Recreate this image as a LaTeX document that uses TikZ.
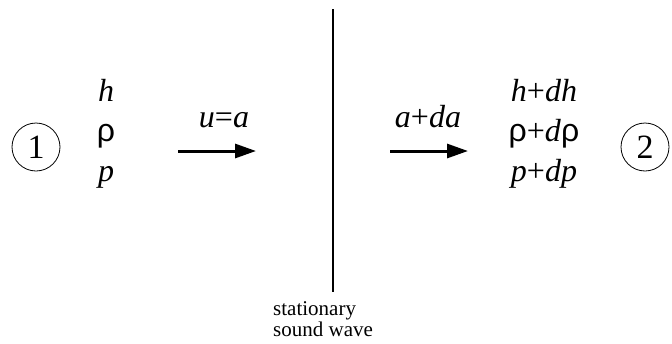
\documentclass[tikz,border=0pt]{standalone}
\usepackage{fontspec}
\setmainfont{Liberation Serif}
\newfontfamily\rhofont{Liberation Sans}
\newcommand{\rh}{{\rhofont ρ}}
\usetikzlibrary{arrows.meta}
\tikzset{
  lbl/.style={font=\fontsize{32}{36}\selectfont, inner sep=0pt, anchor=base},
  numcirc/.style={draw, circle, line width=0.8pt, minimum size=48pt, inner sep=0pt, font=\fontsize{34}{36}\selectfont},
  flow/.style={line width=3pt, -{Triangle[length=21pt,width=14pt]}},
  captext/.style={font=\fontsize{21}{21}\selectfont, inner sep=0pt, anchor=base west, align=left}
}
\begin{document}
\begin{tikzpicture}[x=1pt,y=-1pt]
\useasboundingbox (0,0) rectangle (672,343);
\node[numcirc] (c1) at (36,147) {1};
\node[numcirc] (c2) at (645,147) {2};
\node[lbl] (h1) at (106,101) {\textit{h}};
\node[lbl] (r1) at (106,141) {\rh};
\node[lbl] (p1) at (106,181) {\textit{p}};
\node[lbl] (h2) at (544,101) {\textit{h}+\textit{dh}};
\node[lbl] (r2) at (544,141) {\rh+\textit{d}\rh};
\node[lbl] (p2) at (544,181) {\textit{p}+\textit{dp}};
\node[lbl] (ua) at (224,127) {\textit{u}=\textit{a}};
\node[lbl] (ada) at (428,127) {\textit{a}+\textit{da}};
\coordinate (a1s) at (178,151);
\coordinate (a1e) at (256,151);
\coordinate (a2s) at (390,151);
\coordinate (a2e) at (468,151);
\draw[flow] (a1s) -- (a1e);
\draw[flow] (a2s) -- (a2e);
\coordinate (wt) at (333,9);
\coordinate (wb) at (333,292);
\draw[line width=1.4pt] (wt) -- (wb);
\node[captext] (st) at (273,336) {stationary\\sound wave};
\end{tikzpicture}
\end{document}
